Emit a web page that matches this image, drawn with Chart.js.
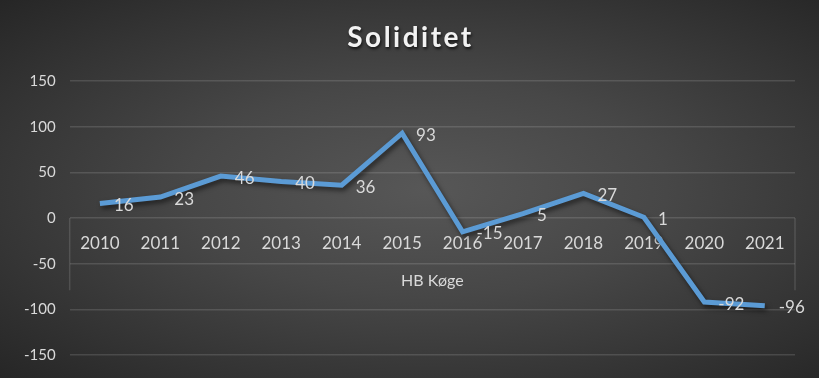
<!DOCTYPE html>
<html>
<head>
<meta charset="utf-8">
<script src="https://cdn.jsdelivr.net/npm/chart.js@4.4.1/dist/chart.umd.min.js"></script>
<style>
  html, body { margin: 0; padding: 0; }
  body {
    width: 819px; height: 378px; overflow: hidden;
    background: radial-gradient(ellipse at 52% 50%, #575757 0%, #474747 40%, #262626 100%);
  }
  #wrap { width: 819px; height: 378px; }
</style>
</head>
<body>
<div id="wrap"><canvas id="soliditet"></canvas></div>
<script>
const years = ['2010', '2011', '2012', '2013', '2014', '2015', '2016', '2017', '2018', '2019', '2020', '2021'];
const soliditet = [16, 23, 46, 40, 36, 93, -15, 5, 27, 1, -92, -96];
const seriesName = 'HB Køge';
const titleText = 'Soliditet';

const textColor = '#d9d9d9';
const gridColor = 'rgba(255,255,255,0.13)';
const fontFamily = "Lato, 'Open Sans', sans-serif";

// labels next to each point, like excel's data labels
const pointLabels = {
  id: 'pointLabels',
  afterDatasetsDraw(chart) {
    const ctx = chart.ctx;
    const meta = chart.getDatasetMeta(0);
    ctx.save();
    ctx.font = '17px ' + fontFamily;
    ctx.fillStyle = textColor;
    ctx.textAlign = 'left';
    ctx.textBaseline = 'middle';
    meta.data.forEach((pt, i) => {
      ctx.fillText(String(soliditet[i]), pt.x + 14, pt.y + 2);
    });
    ctx.restore();
  }
};

// shadow under the line
const lineShadow = {
  id: 'lineShadow',
  beforeDatasetDraw(chart) {
    const ctx = chart.ctx;
    ctx.save();
    ctx.shadowColor = 'rgba(0,0,0,0.55)';
    ctx.shadowBlur = 5;
    ctx.shadowOffsetX = 2;
    ctx.shadowOffsetY = 3;
  },
  afterDatasetDraw(chart) {
    chart.ctx.restore();
  }
};

// the box edges around the category labels
const axisBox = {
  id: 'axisBox',
  beforeDatasetsDraw(chart) {
    const ctx = chart.ctx;
    const y0 = chart.scales.y.getPixelForValue(0);
    const yb = chart.scales.y.getPixelForValue(-79);
    const a = chart.chartArea;
    ctx.save();
    ctx.strokeStyle = gridColor;
    ctx.lineWidth = 1.5;
    ctx.beginPath();
    ctx.moveTo(a.left, y0); ctx.lineTo(a.left, yb);
    ctx.moveTo(a.right, y0); ctx.lineTo(a.right, yb);
    ctx.stroke();
    ctx.restore();
  }
};

// title drawn by hand so it can get letter spacing and a shadow;
// the built-in title stays (transparent) to reserve the space
const fancyTitle = {
  id: 'fancyTitle',
  afterDraw(chart) {
    const ctx = chart.ctx;
    const t = chart.titleBlock;
    ctx.save();
    ctx.font = 'bold 28px ' + fontFamily;
    ctx.letterSpacing = '2.5px';
    ctx.fillStyle = '#f2f2f2';
    ctx.textAlign = 'center';
    ctx.textBaseline = 'alphabetic';
    ctx.shadowColor = 'rgba(0,0,0,0.7)';
    ctx.shadowBlur = 3;
    ctx.shadowOffsetX = 1;
    ctx.shadowOffsetY = 2;
    ctx.fillText(titleText, chart.width / 2 + 1, t.top + t.height - 34);
    ctx.restore();
  }
};

const ctxL = document.getElementById('soliditet').getContext('2d');

const myLineChart = new Chart(ctxL, {
  type: 'line',
  plugins: [lineShadow, axisBox, pointLabels, fancyTitle],
  data: {
    labels: years,
    datasets: [{
      label: seriesName,
      data: soliditet,
      borderColor: '#5b9bd5',
      borderWidth: 5,
      pointRadius: 0,
      tension: 0,
      fill: false
    }]
  },
  options: {
    responsive: true,
    maintainAspectRatio: false,
    animation: false,
    layout: { padding: { left: 10, right: 24, top: 0, bottom: 10 } },
    plugins: {
      legend: { display: false },
      tooltip: { enabled: false },
      title: {
        display: true,
        text: titleText,
        color: 'rgba(0,0,0,0)',
        font: { family: fontFamily, size: 26, weight: 'bold' },
        padding: { top: 20, bottom: 30 }
      }
    },
    scales: {
      x: {
        position: { y: 0 },
        offset: true,
        grid: { display: false },
        border: { display: false },
        ticks: { color: textColor, font: { family: fontFamily, size: 17 }, padding: 7, maxRotation: 0 },
        title: {
          display: true,
          text: seriesName,
          color: textColor,
          font: { family: fontFamily, size: 16 },
          padding: { top: 11 }
        }
      },
      y: {
        min: -150,
        max: 150,
        border: { display: false },
        grid: { color: gridColor, lineWidth: 1.5, drawTicks: false },
        ticks: { stepSize: 50, color: textColor, font: { family: fontFamily, size: 15 }, padding: 14 }
      }
    }
  }
});
</script>
</body>
</html>
